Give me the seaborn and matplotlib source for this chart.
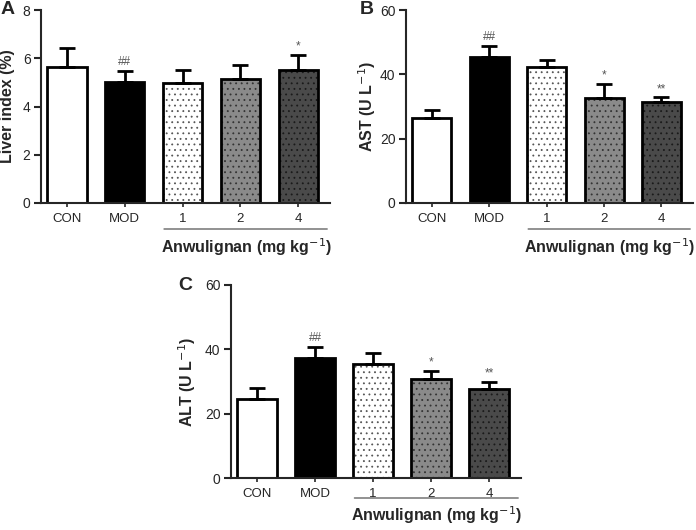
import matplotlib
matplotlib.use("Agg")
import matplotlib.pyplot as plt
import seaborn as sns
import pandas as pd
import numpy as np

sns.set_style("ticks")
plt.rcParams['font.family'] = ['Liberation Sans', 'DejaVu Sans']
plt.rcParams['hatch.linewidth'] = 0.6

groups = ["CON", "MOD", "1", "2", "4"]
liver_mean = [5.65, 5.02, 4.96, 5.16, 5.51]
liver_err = [0.78, 0.47, 0.56, 0.56, 0.62]
ast_mean = [26.5, 45.4, 42.4, 32.7, 31.5]
ast_err = [2.3, 3.5, 2.1, 4.4, 1.3]
alt_mean = [24.5, 37.4, 35.4, 30.9, 27.6]
alt_err = [3.4, 3.4, 3.4, 2.3, 2.2]
liver_marks = ["", "##", "", "", "*"]
ast_marks = ["", "##", "", "*", "**"]
alt_marks = ["", "##", "", "*", "**"]

face_colors = ["white", "black", "white", "#8a8a8a", "#4a4a4a"]
hatches = ["", "", "...", "...", "..."]
hatch_cols = ["black", "black", "#555555", "#333333", "#1a1a1a"]

W, H = 696, 530
fig = plt.figure(figsize=(W / 100, H / 100), dpi=100)


def make_ax(x0, y0, x1, y1):
    return fig.add_axes([x0 / W, 1 - y1 / H, (x1 - x0) / W, (y1 - y0) / H])


def panel(ax, box, means, errs, marks, ymax, yticks, ylabel, letter,
          ylab_dx, letter_dx, bracket_dy, label_dy):
    x0, y0, x1, y1 = box
    wpx, hpx = x1 - x0, y1 - y0
    df = pd.DataFrame({"group": groups, "value": means})
    sns.barplot(data=df, x="group", y="value", order=groups, ax=ax,
                width=0.68, errorbar=None, color="white", saturation=1)
    for i, p in enumerate(ax.patches):
        p.set_facecolor(face_colors[i])
        p.set_edgecolor("black")
        p.set_linewidth(2.0)
        if hatches[i]:
            p.set_hatch(hatches[i])
            p._hatch_color = matplotlib.colors.to_rgba(hatch_cols[i])
    pos = np.arange(len(groups))
    ax.errorbar(pos, means, yerr=[np.zeros(len(errs)), errs], fmt="none",
                ecolor="black", elinewidth=2.0, capsize=5.5, capthick=2.0,
                zorder=1)
    for i, m in enumerate(marks):
        if m:
            ax.text(pos[i], means[i] + errs[i] + ymax * 0.012, m,
                    ha="center", va="bottom", fontsize=8.5, color="#555555")
    ax.set_ylim(0, ymax)
    ax.set_xlim(-0.45, 4.55)
    ax.set_yticks(yticks)
    ax.set_xlabel("")
    ax.set_ylabel(ylabel, fontsize=11.5, fontweight="bold")
    ax.yaxis.set_label_coords(-ylab_dx / wpx, 0.5)
    ax.tick_params(axis="y", labelsize=10, width=1.5, length=5, pad=2.5,
                   direction="out")
    ax.tick_params(axis="x", labelsize=9.5, width=1.2, length=3, pad=4,
                   direction="out")
    for s in ["top", "right"]:
        ax.spines[s].set_visible(False)
    for s in ["left", "bottom"]:
        ax.spines[s].set_linewidth(1.5)
    # bracket for Anwulignan doses
    ax.annotate("", xy=(1.63, -bracket_dy / hpx), xytext=(4.55, -bracket_dy / hpx),
                xycoords=("data", "axes fraction"),
                arrowprops=dict(arrowstyle="-", color="#666666", lw=1.0),
                annotation_clip=False)
    ax.text(3.1, -label_dy / hpx, "Anwulignan (mg kg$^{-1}$)",
            transform=ax.get_xaxis_transform(),
            ha="center", va="center", fontsize=11.5, fontweight="bold")
    ax.text(-letter_dx / wpx, 1.0, letter, transform=ax.transAxes, fontsize=14,
            fontweight="bold", ha="center", va="center")


boxA = (41, 10, 330, 203)
boxB = (406, 10, 693, 203)
boxC = (231, 285, 521, 478)
axA = make_ax(*boxA)
panel(axA, boxA, liver_mean, liver_err, liver_marks, 8, [0, 2, 4, 6, 8],
      "Liver index (%)", "A", 26, 33, 26, 44)
axB = make_ax(*boxB)
panel(axB, boxB, ast_mean, ast_err, ast_marks, 60, [0, 20, 40, 60],
      "AST (U L$^{-1}$)", "B", 28, 39, 26, 44)
axC = make_ax(*boxC)
panel(axC, boxC, alt_mean, alt_err, alt_marks, 60, [0, 20, 40, 60],
      "ALT (U L$^{-1}$)", "C", 33, 46, 20, 37)

fig.savefig("out.png", dpi=100)
